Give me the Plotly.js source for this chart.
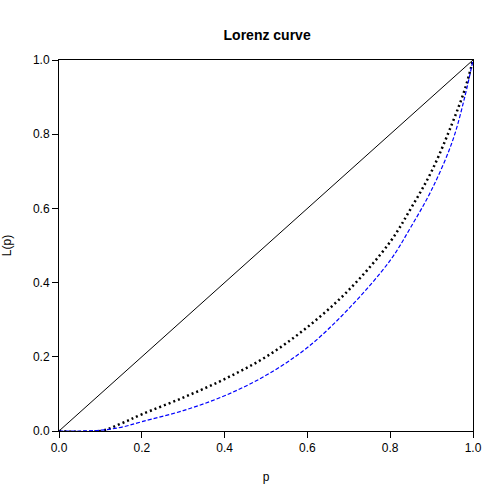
<!DOCTYPE html><html><head><script src="https://cdn.plot.ly/plotly-3.0.1.min.js"></script></head><body style="margin:0"><div id="c" style="width:504px;height:504px"></div><script>
const pEq=[0,1], lEq=[0,1];
const pA=[0,0.1,0.15,0.2,0.3,0.4,0.5,0.6,0.7,0.8,0.85,0.9,0.95,0.98,1];
const lA=[0,0,0.02,0.045,0.09,0.14,0.2,0.28,0.38,0.51,0.6,0.7,0.83,0.92,1];
const pB=[0,0.05,0.1,0.15,0.2,0.3,0.4,0.5,0.6,0.7,0.8,0.85,0.9,0.95,0.98,1];
const lB=[0,0,0.002,0.01,0.025,0.055,0.095,0.15,0.225,0.33,0.46,0.55,0.65,0.78,0.9,1];
const ax={range:[0,1],dtick:0.2,tickformat:'.1f',showgrid:false,zeroline:false,showline:true,mirror:true,linecolor:'black',ticks:'outside',ticklen:6,tickcolor:'black',tickfont:{family:'Liberation Sans, Arial',size:12,color:'black'}};
Plotly.newPlot('c',[
{x:pEq,y:lEq,mode:'lines',line:{color:'black',width:1}},
{x:pA,y:lA,mode:'lines',line:{color:'black',width:2.5,dash:'2px,3px',shape:'spline'}},
{x:pB,y:lB,mode:'lines',line:{color:'blue',width:1.2,dash:'4px,2px',shape:'spline'}}
],{width:504,height:504,showlegend:false,paper_bgcolor:'white',plot_bgcolor:'white',
margin:{l:59,r:31,t:60,b:73},
title:{text:'<b>Lorenz curve</b>',x:0.53,y:0.94,font:{family:'Liberation Sans, Arial',size:14,color:'black'}},
xaxis:Object.assign({},ax,{title:{text:'p',standoff:18,font:{family:'Liberation Sans, Arial',size:12,color:'black'}}}),
yaxis:Object.assign({},ax,{title:{text:'L(p)',standoff:18,font:{family:'Liberation Sans, Arial',size:12,color:'black'}}})
},{displayModeBar:false});
</script></body></html>
